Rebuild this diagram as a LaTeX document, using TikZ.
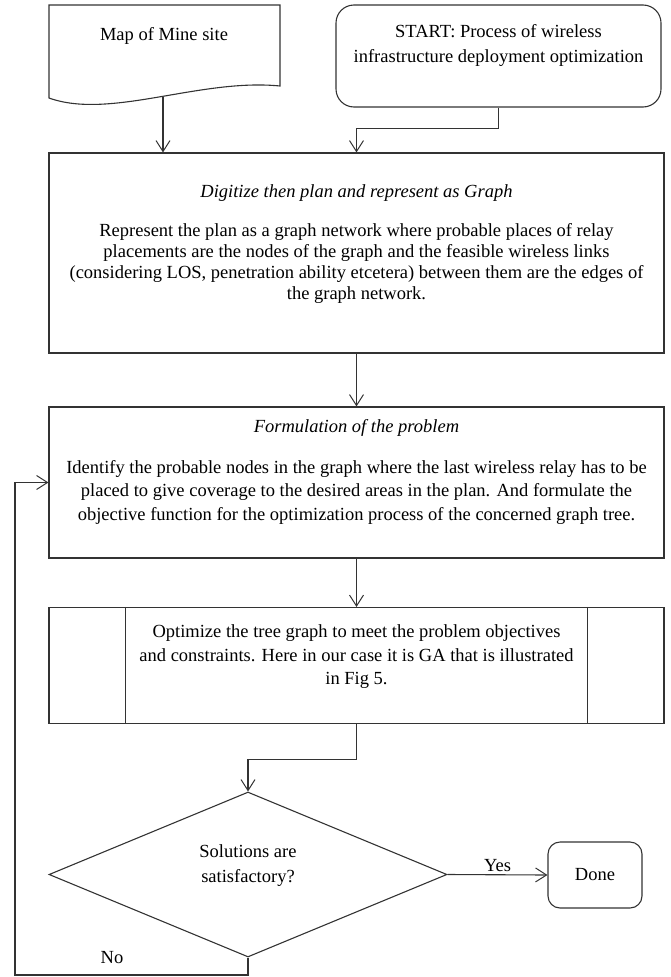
\documentclass[tikz,border=0pt]{standalone}
\usepackage{fontspec}
\setmainfont{Liberation Serif}
\usetikzlibrary{arrows.meta,shapes.geometric,calc}
\begin{document}
\begin{tikzpicture}[x=1pt,y=-1pt,
  line width=1.1pt,
  every node/.style={text=black, font=\fontsize{18.5}{22}\selectfont},
  frame/.style={draw=black!80, minimum width=615pt, inner sep=0pt},
  rbox/.style={draw=black!80, inner sep=0pt},
  txt/.style={align=center, inner sep=0pt},
  arr/.style={draw=black!80, -{Straight Barb[length=11pt,width=14pt,line width=1pt]}},
  ln/.style={draw=black!80}]
\useasboundingbox (0,0) rectangle (671,977);

% Map of Mine site (document shape)
\draw[ln] (49,98) -- (49,5) -- (280,5) -- (280,86)
  .. controls (200,78) and (110,120) .. cycle;
\coordinate (mapb) at (163,97);
\node[txt] (maptxt) at (164,36) {Map of Mine site};

% START box
\node[rbox, rounded corners=18pt, minimum width=325pt, minimum height=102pt] (start) at (498.5,56) {};
\node[txt, font=\fontsize{18.5}{25}\selectfont] (starttxt) at (498.5,45) {START: Process of wireless\\infrastructure deployment optimization};

% Digitize box
\node[frame, minimum height=200pt] (dig) at (356.5,253) {};
\node[txt] (digtitle) at (356.5,193) {\itshape Digitize then plan and represent as Graph};
\node[txt, font=\fontsize{18.5}{21}\selectfont] (digtxt) at (356.5,263) {Represent the plan as a graph network where probable places of relay\\
placements are the nodes of the graph and the feasible wireless links\\
(considering LOS, penetration ability etcetera) between them are the edges of\\
the graph network.};

% Formulation box
\node[frame, minimum height=151pt] (form) at (356.5,482.5) {};
\node[txt] (formtitle) at (356.5,428) {\itshape Formulation of the problem};
\node[txt, font=\fontsize{18.5}{23.5}\selectfont] (formtxt) at (356.5,492) {Identify the probable nodes in the graph where the last wireless relay has to be\\
placed to give coverage to the desired areas in the plan. And formulate the\\
objective function for the optimization process of the concerned graph tree.};

% Optimize box (predefined process)
\node[frame, minimum height=116pt] (opt) at (356.5,665.5) {};
\draw[ln] ([xshift=77pt]opt.north west) -- ([xshift=77pt]opt.south west);
\draw[ln] ([xshift=-77pt]opt.north east) -- ([xshift=-77pt]opt.south east);
\node[txt, font=\fontsize{18.5}{23.5}\selectfont] (opttxt) at (356.5,657) {Optimize the tree graph to meet the problem objectives\\
and constraints. Here in our case it is GA that is illustrated\\
in Fig 5.};

% Decision
\node[draw=black!80, diamond, minimum width=398pt, minimum height=165pt, inner sep=0pt] (dec) at (248,874.5) {};
\node[txt, font=\fontsize{18.5}{25}\selectfont] (dectxt) at (248,866) {Solutions are\\satisfactory?};

% Done
\node[rbox, rounded corners=12pt, minimum width=94pt, minimum height=66pt] (done) at (595,875) {Done};

% Connectors
\draw[arr] (mapb) -- (mapb |- dig.north);
\draw[arr] (start.south) -- ++(0,21) -| (dig.north);
\draw[arr] (dig.south) -- (form.north);
\draw[arr] (form.south) -- (opt.north);
\draw[arr] (opt.south) -- ++(0,35) -| (dec.north);
\draw[arr] (dec.east) -- node[above=3pt, inner sep=0pt] (yes) {Yes} (done.west);
\coordinate (fb) at (15,975);
\draw[arr] (dec.south) |- (fb) |- (form.west);
\node[txt] (no) at (112,958) {No};
\end{tikzpicture}
\end{document}
